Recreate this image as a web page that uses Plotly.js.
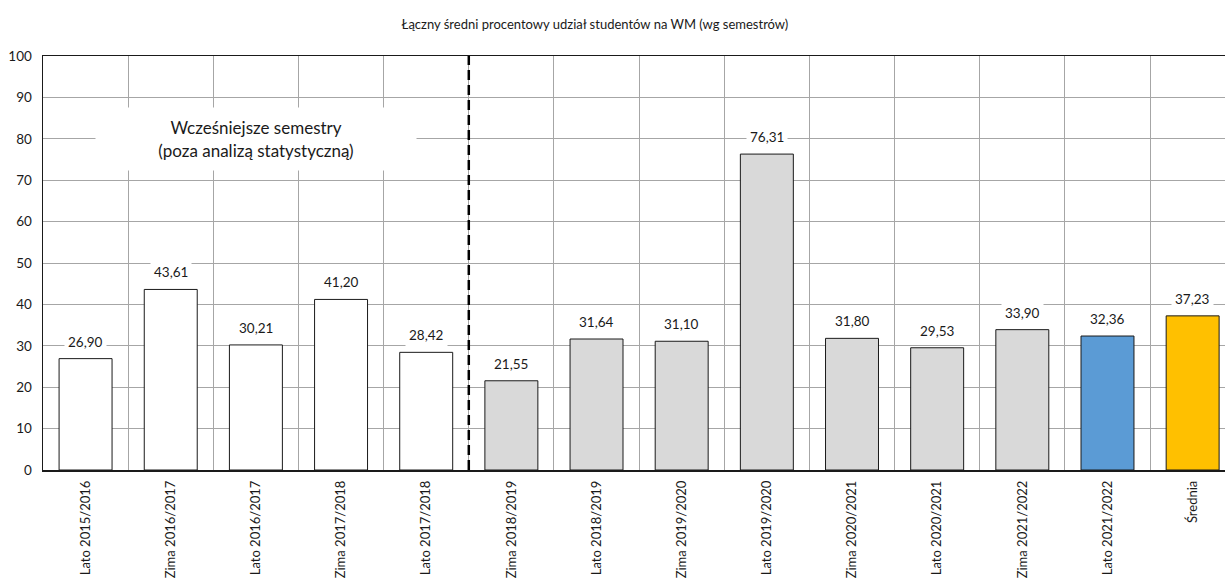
<!DOCTYPE html>
<html>
<head>
<meta charset="utf-8">
<script src="https://cdn.plot.ly/plotly-3.0.1.min.js"></script>
<style>html,body{margin:0;padding:0;background:#fff;}#chart{width:1225px;height:578px;}</style>
</head>
<body>
<div id="chart"></div>
<script>
const categories = ["Lato 2015/2016","Zima 2016/2017","Lato 2016/2017","Zima 2017/2018","Lato 2017/2018","Zima 2018/2019","Lato 2018/2019","Zima 2019/2020","Lato 2019/2020","Zima 2020/2021","Lato 2020/2021","Zima 2021/2022","Lato 2021/2022","Średnia"];
const values = [26.90, 43.61, 30.21, 41.20, 28.42, 21.55, 31.64, 31.10, 76.31, 31.80, 29.53, 33.90, 32.36, 37.23];
const barColors = ["#ffffff","#ffffff","#ffffff","#ffffff","#ffffff","#d9d9d9","#d9d9d9","#d9d9d9","#d9d9d9","#d9d9d9","#d9d9d9","#d9d9d9","#5b9bd5","#ffc000"];
const nEarlier = 5;
const titleText = "Łączny średni procentowy udział studentów na WM (wg semestrów)";
const noteText = "Wcześniejsze semestry<br>(poza analizą statystyczną)";

const FONT = "Lato, 'Open Sans', sans-serif";
const fmt = v => v.toFixed(2).replace('.', ',');

const trace = {
  type: 'bar',
  x: categories,
  y: values,
  marker: {color: barColors, line: {color: '#1a1a1a', width: 1}},
  hoverinfo: 'x+y'
};

const annotations = values.map((v, i) => ({
  x: categories[i], y: v, xref: 'x', yref: 'y',
  text: fmt(v), showarrow: false, yshift: 17, yanchor: 'middle',
  font: {family: FONT, size: 13.5, color: '#1a1a1a'},
  bgcolor: '#ffffff', borderpad: 3
}));
annotations.push({
  x: (nEarlier - 1) / 2, y: 80, xref: 'x', yref: 'y',
  text: noteText, showarrow: false, yanchor: 'middle',
  font: {family: FONT, size: 17, color: '#1a1a1a'},
  bgcolor: '#ffffff', width: 316, height: 58, borderpad: 2
});

const layout = {
  width: 1225, height: 578,
  margin: {l: 43, r: 0, t: 56, b: 108},
  paper_bgcolor: '#ffffff', plot_bgcolor: '#ffffff',
  showlegend: false,
  bargap: 0.378,
  font: {family: FONT, size: 13, color: '#1a1a1a'},
  title: {
    text: titleText, x: 572 / 1225, xanchor: 'center', xref: 'paper',
    y: 1 - 24 / 578, yref: 'container', yanchor: 'middle',
    font: {family: FONT, size: 13, color: '#1a1a1a'}
  },
  xaxis: {
    type: 'category', range: [-0.5, 13.38],
    tickson: 'boundaries', showgrid: true, gridcolor: '#a6a6a6', gridwidth: 1,
    showline: true, linecolor: '#1a1a1a', linewidth: 1.5, mirror: true,
    ticks: '', tickangle: -90, automargin: false, ticklabelstandoff: 4,
    tickfont: {family: FONT, size: 13, color: '#1a1a1a'}, fixedrange: true
  },
  yaxis: {
    range: [0, 100], dtick: 10, tick0: 0,
    showgrid: true, gridcolor: '#a6a6a6', gridwidth: 1,
    showline: true, linecolor: '#1a1a1a', linewidth: 1.5,
    ticks: '', zeroline: false, automargin: false, ticklabelstandoff: 7,
    tickfont: {family: FONT, size: 13.5, color: '#1a1a1a'}, fixedrange: true
  },
  shapes: [{
    type: 'line', xref: 'x', yref: 'y',
    x0: nEarlier - 0.5, x1: nEarlier - 0.5, y0: 0, y1: 100,
    line: {color: '#000000', width: 2.5, dash: '10px,5px'},
    layer: 'above'
  }],
  annotations: annotations
};

Plotly.newPlot('chart', [trace], layout, {displayModeBar: false, staticPlot: true});
</script>
</body>
</html>
